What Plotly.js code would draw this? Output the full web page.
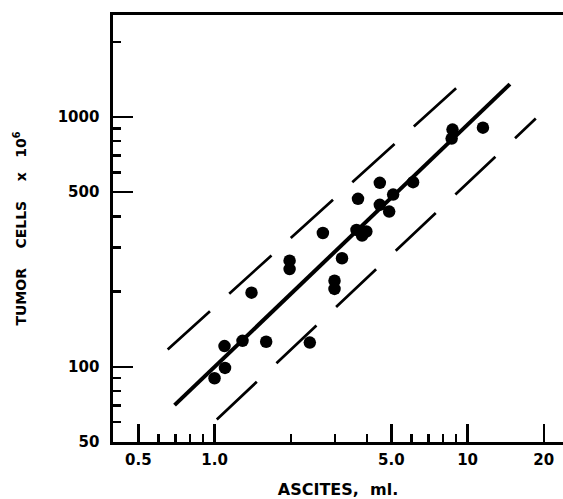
<!DOCTYPE html>
<html>
<head>
<meta charset="utf-8">
<script src="https://cdn.plot.ly/plotly-3.0.1.min.js"></script>
<style>html,body{margin:0;padding:0;background:#fff;}#chart{width:563px;height:499px;}</style>
</head>
<body>
<div id="chart"></div>
<script>
// Observed points: ascites volume (ml) vs tumor cells (x 10^6)
const ascites = [1.0, 1.10, 1.095, 1.29, 1.60, 1.40, 1.98, 1.98, 2.38, 2.68, 2.98, 2.98, 3.19, 3.69, 3.64, 3.98, 3.83, 4.50, 4.50, 4.90, 5.08, 6.09, 8.72, 8.65, 11.5];
const tumorCells = [90, 99, 121, 127, 126, 198, 266, 246, 125, 343, 221, 205, 272, 470, 353, 348, 335, 545, 445, 418, 489, 548, 890, 819, 906];

// Regression line and confidence band end points
const fitX = [0.695, 14.7];
const fitY = [70.2, 1353];
const upperX = [0.653, 10.05];
const upperY = [117.4, 1439];
const lowerX = [1.021, 18.6];
const lowerY = [61.5, 985];

// Tick values and labels
const xTickVals = [0.5, 1, 5, 10, 20];
const xTickText = ["0.5", "1.0", "5.0", "10", "20"];
const xMinorVals = [0.6, 0.7, 0.8, 0.9, 2, 3, 4, 6, 7, 8, 9];
const yTickVals = [50, 100, 500, 1000];
const yTickText = ["50", "100", "500", "1000"];
const yMinorVals = [60, 70, 80, 90, 200, 300, 400, 600, 700, 800, 900, 2000];

const fontFam = "DejaVu Sans";
const bold = s => '<b>' + s + '</b>';

const traces = [
  {x: upperX, y: upperY, mode: 'lines', line: {color: 'black', width: 2.7, dash: '57px,26px'}, hoverinfo: 'skip'},
  {x: lowerX, y: lowerY, mode: 'lines', line: {color: 'black', width: 2.7, dash: '55px,27px'}, hoverinfo: 'skip'},
  {x: fitX, y: fitY, mode: 'lines', line: {color: 'black', width: 4}, hoverinfo: 'skip'},
  {x: ascites, y: tumorCells, mode: 'markers', marker: {color: 'black', size: 12.5}}
];

const layout = {
  width: 563, height: 499,
  margin: {l: 113, r: 0, t: 15, b: 57},
  showlegend: false,
  paper_bgcolor: '#fff', plot_bgcolor: '#fff',
  font: {family: fontFam, color: 'black'},
  xaxis: {
    type: 'log',
    range: [Math.log10(0.397), 1.3771],
    showgrid: false, zeroline: false,
    showline: true, linewidth: 2.6, linecolor: 'black', mirror: true,
    ticks: 'inside', ticklen: 18, tickwidth: 2.4, tickcolor: 'black',
    tickmode: 'array', tickvals: xTickVals, ticktext: xTickText.map(bold),
    tickfont: {family: fontFam, size: 15},
    ticklabelstandoff: 2,
    minor: {tickmode: 'array', tickvals: xMinorVals, ticks: 'inside', ticklen: 8, tickwidth: 2.4, tickcolor: 'black', showgrid: false},
    title: {text: bold('ASCITES,  ml.'), font: {family: fontFam, size: 16}, standoff: 18}
  },
  yaxis: {
    type: 'log',
    range: [Math.log10(50), 3.408],
    showgrid: false, zeroline: false,
    showline: true, linewidth: 2.6, linecolor: 'black',
    ticks: 'inside', ticklen: 20, tickwidth: 2.4, tickcolor: 'black',
    tickmode: 'array', tickvals: yTickVals, ticktext: yTickText.map(bold),
    tickfont: {family: fontFam, size: 15},
    ticklabelstandoff: 8,
    minor: {tickmode: 'array', tickvals: yMinorVals, ticks: 'inside', ticklen: 8, tickwidth: 2.4, tickcolor: 'black', showgrid: false},
    title: {text: bold('TUMOR    CELLS    x   10<sup>6</sup>'), font: {family: fontFam, size: 14}, standoff: 28}
  }
};

Plotly.newPlot('chart', traces, layout, {displayModeBar: false, staticPlot: true});
</script>
</body>
</html>
